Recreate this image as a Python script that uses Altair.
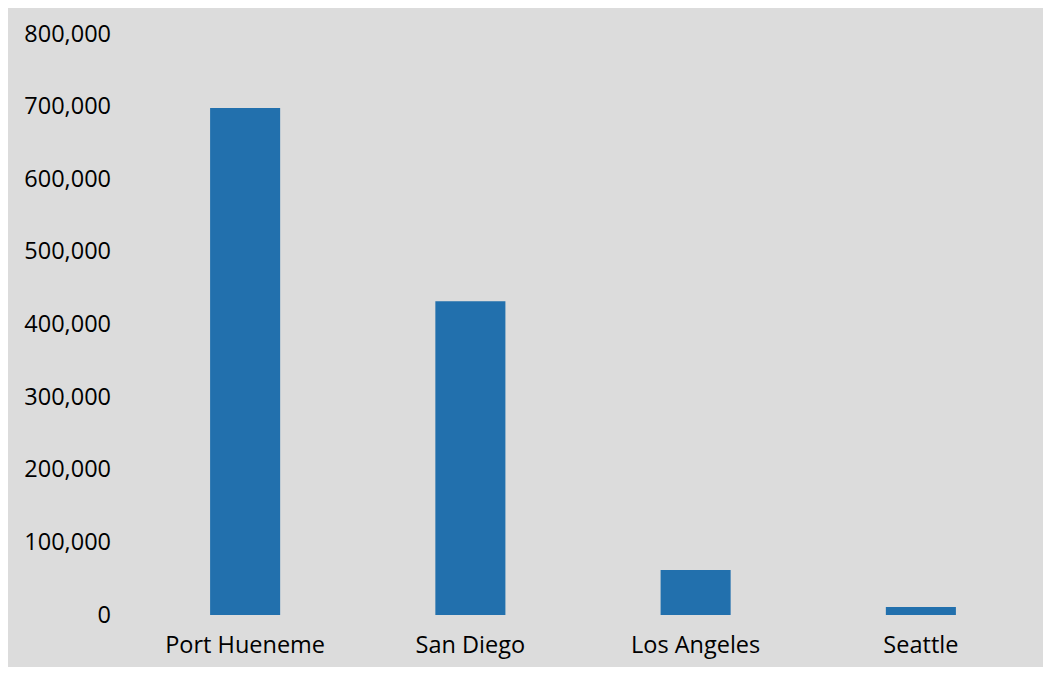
import altair as alt
import pandas as pd

ports = ["Port Hueneme", "San Diego", "Los Angeles", "Seattle"]
values = [698000, 432000, 62000, 11000]
y_ticks = [0, 100000, 200000, 300000, 400000, 500000, 600000, 700000, 800000]

df = pd.DataFrame({"port": ports, "value": values})

FONT = "Open Sans"
FS = 23.5

chart = alt.Chart(df).mark_bar(color="#2270ad").encode(
    x=alt.X("port:N", sort=ports, title=None,
            scale=alt.Scale(paddingInner=0.689, paddingOuter=0.3445),
            axis=alt.Axis(labelAngle=0, domain=False, ticks=False, grid=False,
                          labelPadding=18.5, labelFontSize=FS, labelFont=FONT,
                          labelColor="#000000")),
    y=alt.Y("value:Q", title=None,
            scale=alt.Scale(domain=[0, 800000], nice=False),
            axis=alt.Axis(values=y_ticks,
                          format=",.0f", domain=False, ticks=False, grid=False,
                          labelPadding=22, labelFontSize=FS, labelFont=FONT,
                          labelColor="#000000")),
).properties(
    width=901,
    height=581,
    background="#dcdcdc",
    padding={"left": 124.5, "top": 26, "right": 9.5, "bottom": 52},
    autosize=alt.AutoSizeParams(type="none"),
).configure_view(stroke=None)

chart.save("out.html", embed_options={"renderer": "svg", "actions": False})
